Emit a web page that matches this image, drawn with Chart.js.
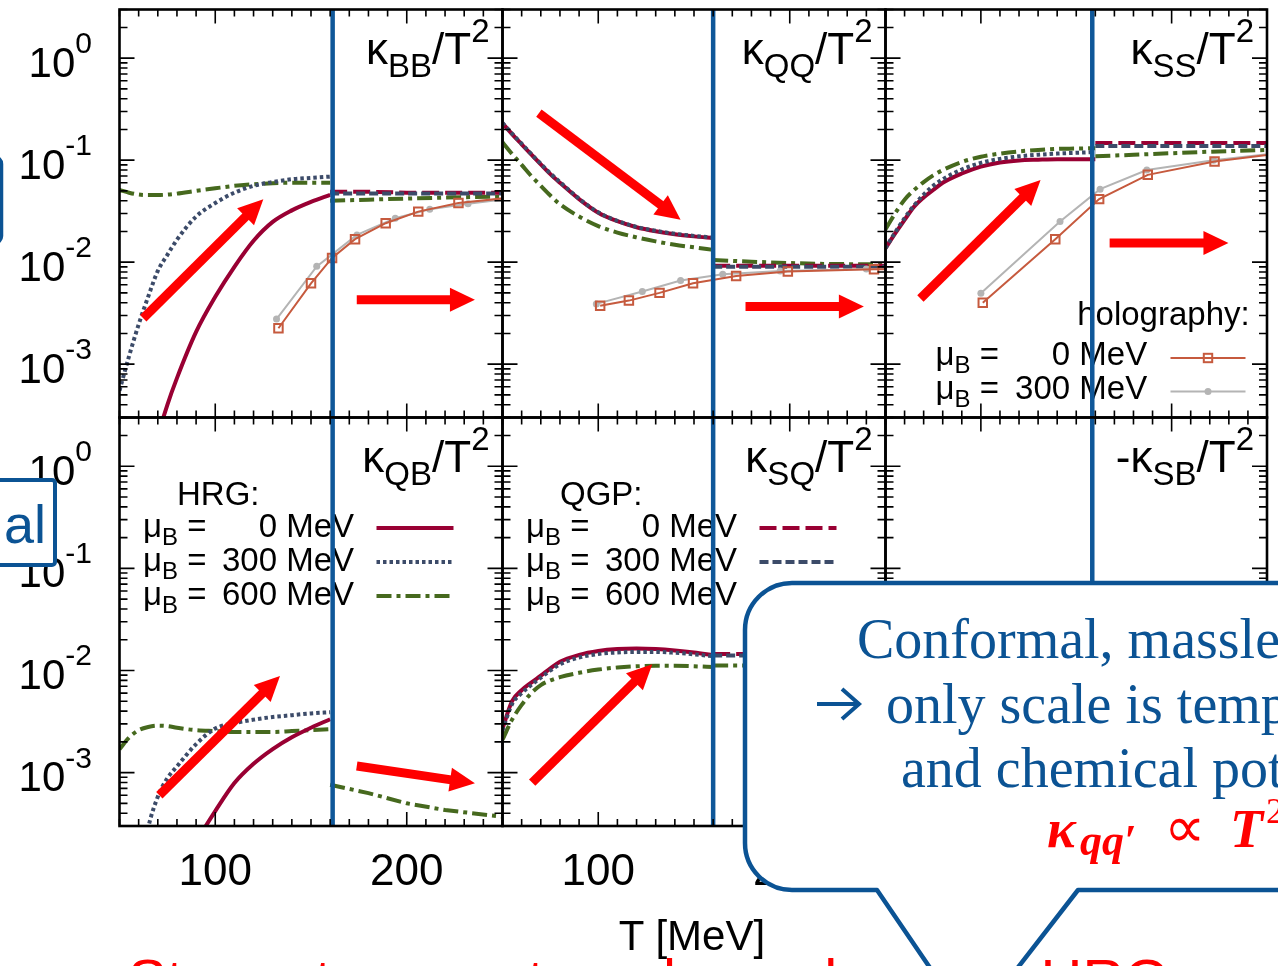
<!DOCTYPE html>
<html>
<head>
<meta charset="utf-8">
<script src="https://cdn.jsdelivr.net/npm/chart.js@4.4.1/dist/chart.umd.min.js"></script>
<style>
  html, body { margin: 0; padding: 0; background: #fff; overflow: hidden; }
  #wrap { position: relative; width: 1278px; height: 966px; overflow: hidden; }
  #wrap canvas, #wrap svg { position: absolute; left: 0; top: 0; }
</style>
</head>
<body>
<div id="wrap">
  <canvas id="pBB" width="1278" height="966"></canvas>
  <canvas id="pQQ" width="1278" height="966"></canvas>
  <canvas id="pSS" width="1278" height="966"></canvas>
  <canvas id="pQB" width="1278" height="966"></canvas>
  <canvas id="pSQ" width="1278" height="966"></canvas>
  <canvas id="pSB" width="1278" height="966"></canvas>
  <svg width="1278" height="966" xmlns="http://www.w3.org/2000/svg">
    <rect x="-100" y="157" width="101.5" height="86" rx="7" fill="#fff" stroke="#0b5394" stroke-width="3.5"/>
    <rect x="-100" y="480" width="155" height="85" rx="3" fill="#fff" stroke="#0b5394" stroke-width="4"/>
    <text x="46" y="543" text-anchor="end" font-family="Liberation Sans, Arial, sans-serif" font-size="54" fill="#0b5394">al</text>
    <text x="692" y="950" text-anchor="middle" font-family="Liberation Sans, Arial, sans-serif" font-size="42" fill="#000">T [MeV]</text>
    <text x="128" y="1000" font-family="Liberation Sans, Arial, sans-serif" font-size="58" fill="#ff0000">Strong temperature dependence in HRG</text>
    <path d="M 792 583 L 1400 583 L 1400 890 L 1078 890 L 971 1028 L 877 890 L 792 890 A 47 47 0 0 1 745 843 L 745 630 A 47 47 0 0 1 792 583 Z"
          fill="#fff" stroke="#0b5394" stroke-width="4.5" stroke-linejoin="round"/>
    <path d="M 817 704 L 858 704 M 842 689 L 859 704 L 842 719" fill="none" stroke="#0b5394" stroke-width="4"/>
    <g font-family="Liberation Serif, Times New Roman, serif" font-size="56" fill="#0b5394">
      <text x="857" y="658">Conformal, massless QGP</text>
      <text x="886" y="723">only scale is temperature</text>
      <text x="901" y="787">and chemical potential</text>
    </g>
    <g font-family="Liberation Serif, Times New Roman, serif" fill="#ff0000">
      <text x="1047" y="847" font-size="54" font-style="italic" font-weight="bold">κ</text>
      <text x="1080" y="855" font-size="44" font-style="italic" font-weight="bold">qq′</text>
      <text x="1164" y="847" font-size="58">∝</text>
      <text x="1230" y="847" font-size="54" font-style="italic" font-weight="bold">T</text>
      <text x="1266" y="823" font-size="36">2</text>
    </g>
  </svg>
</div>
<script>
// temperature grids (MeV)
const T_HRG = [50, 55, 60, 65, 70, 75, 80, 90, 100, 110, 120, 130, 140, 150, 160];
const T_QGP = [160, 180, 200, 220, 250];
// transition line position as drawn in each column
const T_C = [161.3, 160, 158.4];

// kappa_BB / T^2
const bbHrg0   = [3e-6, 1e-5, 3e-5, 8.2e-5, 1.95e-4, 4.0e-4, 7.3e-4, 2.07e-3, 4.57e-3, 9.0e-3, 0.0162, 0.0248, 0.0322, 0.039, 0.0457];
const bbHrg300 = [5.5e-4, 1.2e-3, 2.45e-3, 4.6e-3, 8.2e-3, 0.0118, 0.0166, 0.028, 0.038, 0.048, 0.056, 0.061, 0.065, 0.067, 0.069];
const bbHrg600 = [0.051, 0.048, 0.046, 0.0455, 0.0455, 0.046, 0.047, 0.050, 0.053, 0.056, 0.058, 0.0595, 0.060, 0.060, 0.060];
const bbQgp0   = [0.049, 0.049, 0.048, 0.048, 0.048];
const bbQgp300 = [0.047, 0.047, 0.047, 0.047, 0.047];
const bbQgp600 = [0.040, 0.041, 0.042, 0.043, 0.044];
const bbHoloT0   = [133, 150, 161, 173, 189, 206, 227, 262];
const bbHolo0    = [2.25e-3, 6.2e-3, 0.011, 0.0168, 0.0241, 0.0313, 0.038, 0.0445];
const bbHoloT300 = [132, 153, 174, 194, 212, 232, 262];
const bbHolo300  = [2.77e-3, 9.1e-3, 0.0185, 0.027, 0.033, 0.0373, 0.044];

// kappa_QQ / T^2
const qqHrg0   = [0.230, 0.180, 0.143, 0.114, 0.091, 0.073, 0.060, 0.0415, 0.0305, 0.0252, 0.0220, 0.0201, 0.0188, 0.0179, 0.0172];
const qqHrg300 = [0.232, 0.182, 0.145, 0.115, 0.092, 0.074, 0.061, 0.0419, 0.0308, 0.0254, 0.0222, 0.0203, 0.019, 0.0181, 0.0174];
const qqHrg600 = [0.150, 0.115, 0.090, 0.070, 0.056, 0.045, 0.037, 0.028, 0.0226, 0.0195, 0.0175, 0.016, 0.0148, 0.014, 0.0132];
const qqQgp0   = [0.0092, 0.0092, 0.0092, 0.0092, 0.0092];
const qqQgp300 = [0.0090, 0.0090, 0.0090, 0.0090, 0.0090];
const qqQgp600 = [0.0105, 0.0101, 0.0098, 0.0096, 0.0095];
const qqHoloT0   = [101, 116, 132, 149.5, 172, 199, 244, 300];
const qqHolo0    = [3.73e-3, 4.2e-3, 5.0e-3, 6.2e-3, 7.3e-3, 8.1e-3, 8.5e-3, 8.7e-3];
const qqHoloT300 = [99, 123, 143, 165, 195, 240, 300];
const qqHolo300  = [3.9e-3, 5.15e-3, 6.6e-3, 7.6e-3, 8.2e-3, 8.55e-3, 8.75e-3];

// kappa_SS / T^2
const ssHrg0   = [0.0137, 0.019, 0.026, 0.035, 0.043, 0.051, 0.060, 0.074, 0.0865, 0.095, 0.0995, 0.101, 0.102, 0.102, 0.102];
const ssHrg300 = [0.0137, 0.0195, 0.027, 0.036, 0.046, 0.056, 0.065, 0.081, 0.094, 0.103, 0.109, 0.113, 0.116, 0.118, 0.120];
const ssHrg600 = [0.021, 0.030, 0.041, 0.051, 0.061, 0.071, 0.080, 0.096, 0.108, 0.116, 0.122, 0.126, 0.129, 0.130, 0.131];
const ssQgp0   = [0.147, 0.147, 0.147, 0.147, 0.147];
const ssQgp300 = [0.138, 0.138, 0.138, 0.138, 0.138];
const ssQgp600 = [0.109, 0.113, 0.117, 0.121, 0.126];
const ssHoloT0   = [101, 139, 162, 187.5, 222.5, 270];
const ssHolo0    = [4.0e-3, 0.0168, 0.0415, 0.0718, 0.097, 0.125];
const ssHoloT300 = [100, 141.5, 162.5, 187, 222, 270];
const ssHolo300  = [4.97e-3, 0.025, 0.052, 0.080, 0.100, 0.126];

// kappa_QB / T^2
const qbHrg0   = [2e-7, 1e-6, 4e-6, 1.2e-5, 3e-5, 6e-5, 1.0e-4, 2.1e-4, 4.2e-4, 7.9e-4, 1.22e-3, 1.7e-3, 2.22e-3, 2.75e-3, 3.33e-3];
const qbHrg300 = [1e-5, 3e-5, 9e-5, 2.9e-4, 5.8e-4, 8.8e-4, 1.15e-3, 1.9e-3, 2.7e-3, 3.05e-3, 3.3e-3, 3.5e-3, 3.65e-3, 3.8e-3, 3.9e-3];
const qbHrg600 = [1.69e-3, 2.2e-3, 2.6e-3, 2.8e-3, 2.88e-3, 2.85e-3, 2.75e-3, 2.6e-3, 2.55e-3, 2.5e-3, 2.5e-3, 2.5e-3, 2.55e-3, 2.6e-3, 2.66e-3];
const qbQgp600 = [7.6e-4, 6.3e-4, 5.0e-4, 4.3e-4, 3.7e-4];

// kappa_SQ / T^2
const sqHrg0   = [2.7e-3, 5.0e-3, 6.4e-3, 7.6e-3, 8.9e-3, 0.0105, 0.0122, 0.0142, 0.0155, 0.0162, 0.0164, 0.0162, 0.0157, 0.015, 0.0141];
const sqHrg300 = [2.6e-3, 4.7e-3, 6.0e-3, 7.2e-3, 8.5e-3, 0.0100, 0.0115, 0.0134, 0.0145, 0.015, 0.0152, 0.0152, 0.0149, 0.0144, 0.0138];
const sqHrg600 = [2.1e-3, 3.3e-3, 4.6e-3, 6.0e-3, 7.2e-3, 8.0e-3, 8.6e-3, 9.5e-3, 0.0102, 0.0107, 0.011, 0.0111, 0.0111, 0.011, 0.0108];
const sqQgp0   = [0.0145, 0.0145, 0.0145, 0.0145, 0.0145];
const sqQgp300 = [0.0140, 0.0140, 0.0140, 0.0140, 0.0140];
const sqQgp600 = [0.0112, 0.0112, 0.0112, 0.0112, 0.0112];

// red arrows: [T0, value0, T1, value1]
const arrowsBB = [[62.4, 2.82e-3, 125.1, 0.0415], [173.9, 4.27e-3, 235.6, 4.27e-3]];
const arrowsQQ = [[69, 0.289, 143, 0.026], [176.9, 3.67e-3, 238.7, 3.67e-3]];
const arrowsSS = [[68.3, 4.4e-3, 131.3, 0.064], [167.5, 0.0154, 229.8, 0.0154]];
const arrowsQB = [[70.8, 6.0e-4, 133.8, 8.85e-3], [173.9, 1.16e-3, 235.6, 7.85e-4]];
const arrowsSQ = [[65.5, 7.97e-4, 128.2, 0.0115]];

const xTickLabels = [100, 200];
const yTickLabels = [0, -1, -2, -3];

const RED = '#990033', SLATE = '#3c4b69', GREEN = '#46691e', ORANGE = '#c65a3e', GRAY = '#b4b4b4', TC_BLUE = '#0f5799';
const FONT = '"Liberation Sans", Arial, Helvetica, sans-serif';

const S = {
  hrg0:   { borderColor: RED, borderWidth: 4, cubicInterpolationMode: 'monotone' },
  hrg300: { borderColor: SLATE, borderWidth: 4, borderDash: [3.5, 3], cubicInterpolationMode: 'monotone' },
  hrg600: { borderColor: GREEN, borderWidth: 4, borderDash: [15, 5, 4, 5], cubicInterpolationMode: 'monotone' },
  qgp0:   { borderColor: RED, borderWidth: 4, borderDash: [17, 6] },
  qgp300: { borderColor: SLATE, borderWidth: 4, borderDash: [9, 4] },
  qgp600: { borderColor: GREEN, borderWidth: 4, borderDash: [15, 5, 4, 5] },
  holo0:  { borderColor: ORANGE, borderWidth: 2, pointStyle: 'rect', pointRadius: 6, pointBorderWidth: 2,
            pointBorderColor: ORANGE, pointBackgroundColor: 'rgba(0,0,0,0)' },
  holo300:{ borderColor: GRAY, borderWidth: 2, pointStyle: 'circle', pointRadius: 3.5, pointBorderWidth: 0,
            pointBackgroundColor: GRAY }
};

const COLS = [[119.5, 502.5], [502.5, 885.5], [885.5, 1267]];
const ROWS = [[9.5, 417.5], [417.5, 826]];

function curve(ts, vals, style) {
  return Object.assign({ data: ts.map((t, i) => ({ x: t, y: vals[i] })), pointRadius: 0, clip: 0, fill: false }, style);
}

function setFont(ctx, size) { ctx.font = size + 'px ' + FONT; }
function richWidth(ctx, parts) {
  let w = 0;
  for (const p of parts) { setFont(ctx, p.size); w += ctx.measureText(p.text).width; }
  return w;
}
function drawRich(ctx, x, y, parts) {
  for (const p of parts) {
    setFont(ctx, p.size);
    ctx.fillText(p.text, x, y + (p.dy || 0));
    x += ctx.measureText(p.text).width;
  }
}

function drawArrow(ctx, x0, y0, x1, y1) {
  const a = Math.atan2(y1 - y0, x1 - x0), c = Math.cos(a), s = Math.sin(a);
  const head = 25, half = 12;
  const bx = x1 - head * c, by = y1 - head * s;
  ctx.save();
  ctx.strokeStyle = ctx.fillStyle = '#ff0000';
  ctx.lineWidth = 9;
  ctx.beginPath(); ctx.moveTo(x0, y0); ctx.lineTo(bx + c, by + s); ctx.stroke();
  ctx.beginPath();
  ctx.moveTo(x1, y1);
  ctx.lineTo(bx + half * s, by - half * c);
  ctx.lineTo(bx - half * s, by + half * c);
  ctx.closePath(); ctx.fill();
  ctx.restore();
}

function strokeSample(ctx, st, x0, x1, y) {
  ctx.save();
  ctx.strokeStyle = st.borderColor; ctx.lineWidth = st.borderWidth;
  ctx.setLineDash(st.borderDash || []);
  ctx.beginPath(); ctx.moveTo(x0, y); ctx.lineTo(x1, y); ctx.stroke();
  ctx.setLineDash([]);
  const xm = (x0 + x1) / 2;
  if (st.pointStyle === 'rect') {
    ctx.lineWidth = 2; ctx.strokeRect(xm - 4.2, y - 4.2, 8.4, 8.4);
  } else if (st.pointStyle === 'circle') {
    ctx.fillStyle = st.pointBackgroundColor;
    ctx.beginPath(); ctx.arc(xm, y, st.pointRadius, 0, 2 * Math.PI); ctx.fill();
  }
  ctx.restore();
}

function drawLegend(ctx, area, lg) {
  ctx.fillStyle = '#000';
  ctx.textBaseline = 'alphabetic';
  ctx.textAlign = 'left';
  setFont(ctx, 33);
  ctx.fillText(lg.header, area.left + lg.hx, area.top + lg.hy);
  lg.rows.forEach((r, i) => {
    const y = area.top + lg.ry[i];
    ctx.textAlign = 'left';
    drawRich(ctx, area.left + lg.mx, y, [{ text: 'μ', size: 33 }, { text: 'B', size: 24, dy: 8 }, { text: ' =', size: 33 }]);
    setFont(ctx, 33);
    ctx.textAlign = 'right';
    ctx.fillText(r.text, area.left + lg.vx, y);
    ctx.textAlign = 'left';
    strokeSample(ctx, r.style, area.left + lg.sx0, area.left + lg.sx1, y + lg.sdy);
  });
}

function panelPlugin(def) {
  return {
    id: 'panel_' + def.name,
    beforeDatasetsDraw(chart) {
      if (def.legend) drawLegend(chart.ctx, chart.chartArea, def.legend);
    },
    afterDatasetsDraw(chart) {
      const ctx = chart.ctx, a = chart.chartArea, xs = chart.scales.x, ys = chart.scales.y;
      ctx.save();
      // ticks (inward, mirrored)
      ctx.strokeStyle = '#000'; ctx.lineWidth = 1.6;
      ctx.beginPath();
      for (let t = 50; t <= 250; t += 10) {
        const px = xs.getPixelForValue(t), len = t % 100 === 0 ? 14 : 7;
        ctx.moveTo(px, a.bottom); ctx.lineTo(px, a.bottom - len);
        ctx.moveTo(px, a.top); ctx.lineTo(px, a.top + len);
      }
      for (let e = -4; e <= 0; e++) {
        for (let d = 1; d <= 9; d++) {
          const v = d * Math.pow(10, e);
          if (v < 2.99e-4 || v > 3.01) continue;
          const py = ys.getPixelForValue(v), len = d === 1 ? 15 : 8;
          ctx.moveTo(a.left, py); ctx.lineTo(a.left + len, py);
          ctx.moveTo(a.right, py); ctx.lineTo(a.right - len, py);
        }
      }
      ctx.stroke();
      // frame
      ctx.lineWidth = 2.6;
      ctx.strokeRect(a.left, a.top, a.right - a.left, a.bottom - a.top);
      // tick labels
      ctx.fillStyle = '#000';
      ctx.textBaseline = 'alphabetic';
      if (def.col === 0) {
        for (const e of yTickLabels) {
          const py = ys.getPixelForValue(Math.pow(10, e));
          const parts = [{ text: '10', size: 42, dy: 18.7 }, { text: String(e), size: 30, dy: -5 }];
          ctx.textAlign = 'left';
          drawRich(ctx, 92 - richWidth(ctx, parts), py, parts);
        }
      }
      if (def.row === 1) {
        setFont(ctx, 44);
        ctx.textAlign = 'center';
        for (const t of xTickLabels) ctx.fillText(String(t), xs.getPixelForValue(t), a.bottom + 59);
      }
      // title
      ctx.textAlign = 'left';
      const tp = [{ text: def.prefix + 'κ', size: 44 }, { text: def.name, size: 33, dy: 13 },
                  { text: '/T', size: 44 }, { text: '2', size: 33, dy: -22 }];
      drawRich(ctx, a.right - 13 - richWidth(ctx, tp), a.top + 54, tp);
      // arrows
      for (const ar of def.arrows) {
        drawArrow(ctx, xs.getPixelForValue(ar[0]), ys.getPixelForValue(ar[1]),
                       xs.getPixelForValue(ar[2]), ys.getPixelForValue(ar[3]));
      }
      ctx.restore();
    }
  };
}

const hrgLegend = (header) => ({
  header, hx: 57.5, hy: 87, mx: 23.5, vx: 234.5, sx0: 257, sx1: 334, sdy: -8.5, ry: [119, 153, 187],
  rows: header === 'HRG:'
    ? [{ text: '0 MeV', style: S.hrg0 }, { text: '300 MeV', style: S.hrg300 }, { text: '600 MeV', style: S.hrg600 }]
    : [{ text: '0 MeV', style: S.qgp0 }, { text: '300 MeV', style: S.qgp300 }, { text: '600 MeV', style: S.qgp600 }]
});

const panels = [
  { id: 'pBB', name: 'BB', prefix: '', col: 0, row: 0, arrows: arrowsBB,
    hrg: [bbHrg0, bbHrg300, bbHrg600], qgp: [bbQgp0, bbQgp300, bbQgp600],
    holo: [[bbHoloT0, bbHolo0], [bbHoloT300, bbHolo300]] },
  { id: 'pQQ', name: 'QQ', prefix: '', col: 1, row: 0, arrows: arrowsQQ,
    hrg: [qqHrg0, qqHrg300, qqHrg600], qgp: [qqQgp0, qqQgp300, qqQgp600],
    holo: [[qqHoloT0, qqHolo0], [qqHoloT300, qqHolo300]] },
  { id: 'pSS', name: 'SS', prefix: '', col: 2, row: 0, arrows: arrowsSS,
    hrg: [ssHrg0, ssHrg300, ssHrg600], qgp: [ssQgp0, ssQgp300, ssQgp600],
    holo: [[ssHoloT0, ssHolo0], [ssHoloT300, ssHolo300]],
    legend: { header: 'holography:', hx: 191.7, hy: 315.5, mx: 50, vx: 261.7, sx0: 285, sx1: 360, sdy: -7, ry: [355.5, 389],
              rows: [{ text: '0 MeV', style: S.holo0 }, { text: '300 MeV', style: S.holo300 }] } },
  { id: 'pQB', name: 'QB', prefix: '', col: 0, row: 1, arrows: arrowsQB,
    hrg: [qbHrg0, qbHrg300, qbHrg600], qgp: [null, null, qbQgp600], holo: [],
    legend: hrgLegend('HRG:') },
  { id: 'pSQ', name: 'SQ', prefix: '', col: 1, row: 1, arrows: arrowsSQ,
    hrg: [sqHrg0, sqHrg300, sqHrg600], qgp: [sqQgp0, sqQgp300, sqQgp600], holo: [],
    legend: hrgLegend('QGP:') },
  { id: 'pSB', name: 'SB', prefix: '-', col: 2, row: 1, arrows: [],
    hrg: [null, null, null], qgp: [null, null, null], holo: [] }
];

panels.forEach(def => {
  const [x0, x1] = COLS[def.col], [y0, y1] = ROWS[def.row];
  const tc = T_C[def.col];
  const sets = [];
  // z-order: first dataset is drawn on top
  sets.push({ data: [{ x: tc, y: 3e-4 }, { x: tc, y: 3 }], borderColor: TC_BLUE, borderWidth: 4.5,
              pointRadius: 0, clip: false, order: -1 });
  if (def.holo[0]) sets.push(curve(def.holo[0][0], def.holo[0][1], S.holo0));
  if (def.holo[1]) sets.push(curve(def.holo[1][0], def.holo[1][1], S.holo300));
  if (def.hrg[1]) sets.push(curve(T_HRG, def.hrg[1], S.hrg300));
  if (def.hrg[0]) sets.push(curve(T_HRG, def.hrg[0], S.hrg0));
  if (def.hrg[2]) sets.push(curve(T_HRG, def.hrg[2], S.hrg600));
  if (def.qgp[1]) sets.push(curve(T_QGP, def.qgp[1], S.qgp300));
  if (def.qgp[0]) sets.push(curve(T_QGP, def.qgp[0], S.qgp0));
  if (def.qgp[2]) sets.push(curve(T_QGP, def.qgp[2], S.qgp600));

  new Chart(document.getElementById(def.id), {
    type: 'line',
    data: { datasets: sets },
    options: {
      responsive: false,
      animation: false,
      devicePixelRatio: 1,
      layout: { padding: { left: x0, right: 1278 - x1, top: y0, bottom: 966 - y1 } },
      elements: { line: { capBezierPoints: false, tension: 0 }, point: { radius: 0 } },
      plugins: { legend: { display: false }, tooltip: { enabled: false } },
      scales: {
        x: { type: 'linear', min: 50, max: 250, display: false },
        y: { type: 'logarithmic', min: 3e-4, max: 3, display: false }
      }
    },
    plugins: [panelPlugin(def)]
  });
});
</script>
</body>
</html>
